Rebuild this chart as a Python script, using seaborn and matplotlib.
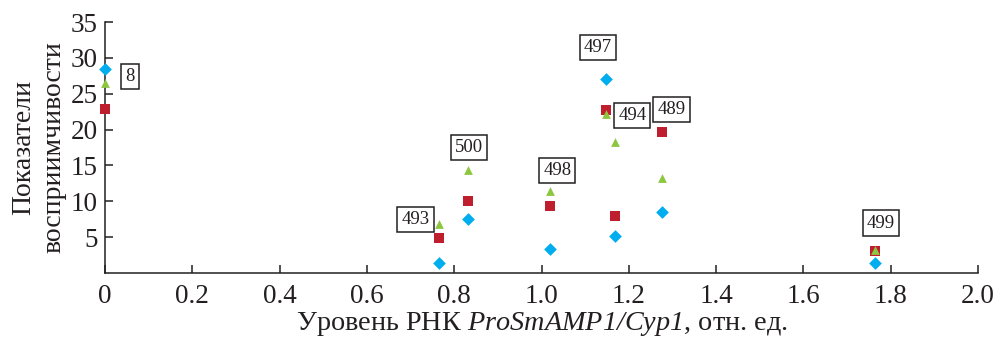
import pandas as pd
import seaborn as sns
from matplotlib import pyplot as plt

# line numbers and their readings
lines = ["8", "493", "500", "498", "497", "494", "489", "499"]
rna_level = [0.0, 0.766, 0.832, 1.02, 1.148, 1.169, 1.275, 1.764]
index_a = [28.4, 1.35, 7.5, 3.3, 27.0, 5.1, 8.5, 1.35]     # blue diamonds
index_b = [22.8, 4.9, 10.1, 9.3, 22.7, 8.0, 19.7, 3.1]     # red squares
index_c = [26.5, 6.8, 14.4, 11.5, 22.2, 18.3, 13.2, 3.2]   # green triangles

x_ticks = [0, 0.2, 0.4, 0.6, 0.8, 1.0, 1.2, 1.4, 1.6, 1.8, 2.0]
y_ticks = [5, 10, 15, 20, 25, 30, 35]

# label box offsets from the top marker, in pixels (dx, dy up)
label_offsets = [(25, -7), (-24, 5), (1, 22), (7, 20), (-8, 32), (17, 26), (10, 22), (6, 27)]


def build_frame() -> pd.DataFrame:
    parts = []
    for name, vals in [("a", index_a), ("b", index_b), ("c", index_c)]:
        parts.append(pd.DataFrame({"rna": rna_level, "value": vals, "series": name}))
    return pd.concat(parts, ignore_index=True)


sns.set_style("ticks")
plt.rcParams["font.family"] = ["Liberation Serif", "DejaVu Serif"]
# everything inside $...$ is italic (digits too)
plt.rcParams["mathtext.fontset"] = "custom"
plt.rcParams["mathtext.rm"] = "Liberation Serif:italic"
plt.rcParams["mathtext.it"] = "Liberation Serif:italic"

df = build_frame()

fig = plt.figure(figsize=(9.96, 3.39), dpi=100)
ax = fig.add_axes([105 / 996, 66 / 339, 873 / 996, 251 / 339])

palette = {"a": "#00aeef", "b": "#be1e2d", "c": "#8dc63f"}
markers = {"a": "D", "b": "s", "c": "^"}
sizes = {"a": 42, "b": 52, "c": 40}
for name in ["a", "b", "c"]:
    sub = df[df["series"] == name]
    sns.scatterplot(data=sub, x="rna", y="value", color=palette[name], marker=markers[name],
                    s=sizes[name], linewidth=0, ax=ax, zorder=3, clip_on=False)

for i, lab in enumerate(lines):
    top = max(index_a[i], index_b[i], index_c[i])
    dx, dy = label_offsets[i]
    ax.annotate(lab, (rna_level[i], top), xytext=(dx * 0.72, dy * 0.72), textcoords="offset points",
                ha="center", va="center", fontsize=13.5, color="#231f20",
                bbox=dict(boxstyle="square,pad=0.22", fc="white", ec="#231f20", lw=1.1))

ax.set_xlim(0, 2.0)
ax.set_ylim(0, 35)
ax.set_xticks(x_ticks)
ax.set_xticklabels(["0" if t == 0 else f"{t:.1f}" for t in x_ticks])
ax.set_yticks(y_ticks)
ax.tick_params(direction="in", length=6, width=1.1, color="#231f20", labelsize=19.5, labelcolor="#231f20")
ax.tick_params(axis="x", pad=8)
ax.tick_params(axis="y", pad=5)
sns.despine(ax=ax)
for side in ["left", "bottom"]:
    ax.spines[side].set_linewidth(1.1)
    ax.spines[side].set_color("#231f20")

ax.set_xlabel(r"Уровень РНК $\mathrm{ProSmAMP1/Cyp1}$, отн. ед.", fontsize=20.3, color="#231f20", labelpad=1)
ax.set_ylabel("Показатели\nвосприимчивости", fontsize=20, color="#231f20", labelpad=3, linespacing=1.3)

fig.savefig("out.png", dpi=100)
